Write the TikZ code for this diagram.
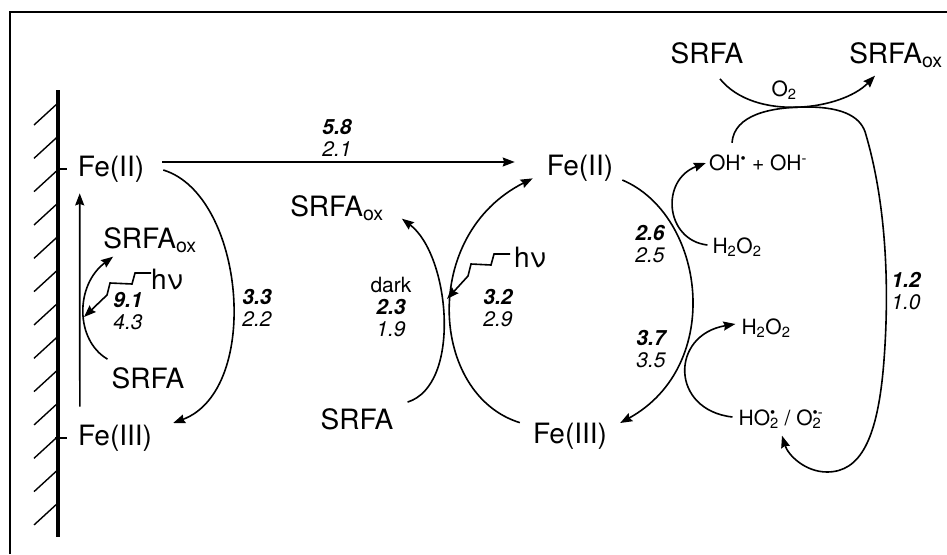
\documentclass[tikz,border=0pt]{standalone}
\usepackage{fontspec}
\setmainfont{TeX Gyre Heros}
\usepackage{tikz}
\usetikzlibrary{arrows.meta}
% radical subscript with stacked superscript
\newcommand{\radsub}[2]{\makebox[0pt][l]{\textsuperscript{#2}}\textsubscript{#1}}

\begin{document}
\begin{tikzpicture}[x=1pt, y=-1pt,
    species/.style={font=\fontsize{28}{30}\selectfont, inner sep=0pt},
    minor/.style={font=\fontsize{21}{23}\selectfont, inner sep=0pt},
    rate/.style={minor, align=center, font=\fontsize{21}{22}\selectfont\itshape},
    arr/.style={-{Stealth[length=12pt, width=9pt, inset=1.5pt]}, line width=1.6pt},
    hatchline/.style={line width=1.4pt}]
    \useasboundingbox (0,0) rectangle (947,554);
    % frame
    \draw[line width=1.6pt] (10,554) -- (10,12) -- (947,12);
    % surface
    \draw[line width=3.6pt] (58,90) -- (58,537);
    \foreach \k in {0,...,12} { \draw[hatchline] (58,{103+33.33*\k}) -- ++(-24,22); }
    % species at the surface
    \node[species] (feIIL) at (111,169) {Fe(II)};
    \node[species] (feIIIL) at (115,438) {Fe(III)};
    \node[species] (srfaoxL) at (150,240) {SRFA\textsubscript{ox}};
    \node[species] (hnuL) at (167,280) {hν};
    \node[species] (srfaL) at (148,378) {SRFA};
    \draw[line width=1.4pt] ([shift={(-11,0)}]feIIL.west) -- ++(-10,0);
    \draw[line width=1.4pt] ([shift={(-11,0)}]feIIIL.west) -- ++(-12,0);
    % species in solution
    \node[species] (feIIM) at (580,168) {Fe(II)};
    \node[species] (feIIIM) at (570,436) {Fe(III)};
    \node[species] (srfaoxM) at (337,208) {SRFA\textsubscript{ox}};
    \node[species] (hnuM) at (530,258) {hν};
    \node[species] (srfaM) at (357,419) {SRFA};
    \node[species] (srfaT) at (707,53) {SRFA};
    \node[species] (srfaoxT) at (896,55) {SRFA\textsubscript{ox}};
    \node[minor] (o2) at (784,90) {O\textsubscript{2}};
    \node[minor] (ohs) at (758,163) {OH\textsuperscript{\textbullet} + OH\textsuperscript{-}};
    \node[minor] (h2o2a) at (737,247) {H\textsubscript{2}O\textsubscript{2}};
    \node[minor] (h2o2b) at (766,328) {H\textsubscript{2}O\textsubscript{2}};
    \node[minor] (ho2) at (780,419) {HO\radsub{2}{\textbullet} / O\radsub{2}{\textbullet-}};
    % rate constants
    \node[rate] (kTrans) at (337,138) {\textbf{5.8}\\2.1};
    \node[rate] (kSurfL) at (128,311) {\textbf{9.1}\\4.3};
    \node[rate] (kOxL) at (257,308) {\textbf{3.3}\\2.2};
    \node[rate] (kDark) at (391,307) {\upshape dark\\\textbf{2.3}\\1.9};
    \node[rate] (kHv) at (498,308) {\textbf{3.2}\\2.9};
    \node[rate] (kFenton) at (650,244) {\textbf{2.6}\\2.5};
    \node[rate] (kSuper) at (651,349) {\textbf{3.7}\\3.5};
    \node[rate] (kRad) at (906,291) {\textbf{1.2}\\1.0};
    % surface reactions
    \draw[arr] ([shift={(18,-7)}]feIIL.east) -- ([shift={(-32,-6)}]feIIM.west);
    \draw[arr] ([shift={(2,-18)}]feIIIL.north west) -- ([shift={(2,11)}]feIIL.south west);
    \draw[arr] ([shift={(19,1)}]feIIL.east) .. controls (245,195) and (262,390) .. ([shift={(21,-15)}]feIIIL.east);
    \draw[arr] ([shift={(-4,-8)}]srfaL.north west) .. controls (75,340) and (75,285) .. ([shift={(10,4)}]srfaoxL.south west);
    \draw[arr] ([shift={(0,-7)}]hnuL.west) -- ++(-16,0) -- ++(-3,11) -- ++(-22,-1) -- ++(-3,12) -- ++(-23,22);
    % solution reactions
    \draw[arr] ([shift={(14,-6)}]srfaM.north east) .. controls (462,385) and (450,255) .. ([shift={(18,-2)}]srfaoxM.south east);
    \draw[arr] ([shift={(-13,0)}]feIIIM.north west) .. controls (430,395) and (420,235) .. ([shift={(-14,-3)}]feIIM.south west);
    \draw[arr] ([shift={(-4,-4)}]hnuM.west) -- ++(-16,0) -- ++(-3,11) -- ++(-20,-1) -- ++(-3,12) -- ++(-21,23);
    \draw[arr] ([shift={(9,12)}]feIIM.east) .. controls (705,215) and (725,365) .. ([shift={(13,-13)}]feIIIM.east);
    \draw[arr] ([shift={(-5,-2)}]h2o2a.west) .. controls (665,240) and (660,180) .. ([shift={(-3,0)}]ohs.west);
    \draw[arr] ([shift={(-6,-2)}]ho2.west) .. controls (670,410) and (670,335) .. ([shift={(-6,-4)}]h2o2b.west);
    \draw[arr] ([shift={(13,15)}]srfaT.south) .. controls (755,122) and (842,110) .. ([shift={(-21,8)}]srfaoxT.south);
    \draw[arr] ([shift={(-26,-12)}]ohs.north) .. controls (734,115) and (770,107) .. (807,107)
        .. controls (845,107) and (862,118) .. (866,135)
        .. controls (885,200) and (890,280) .. (884,360)
        .. controls (878,440) and (860,472) .. (827,472)
        .. controls (805,472) and (788,455) .. ([shift={(2,7)}]ho2.south);
\end{tikzpicture}
\end{document}
